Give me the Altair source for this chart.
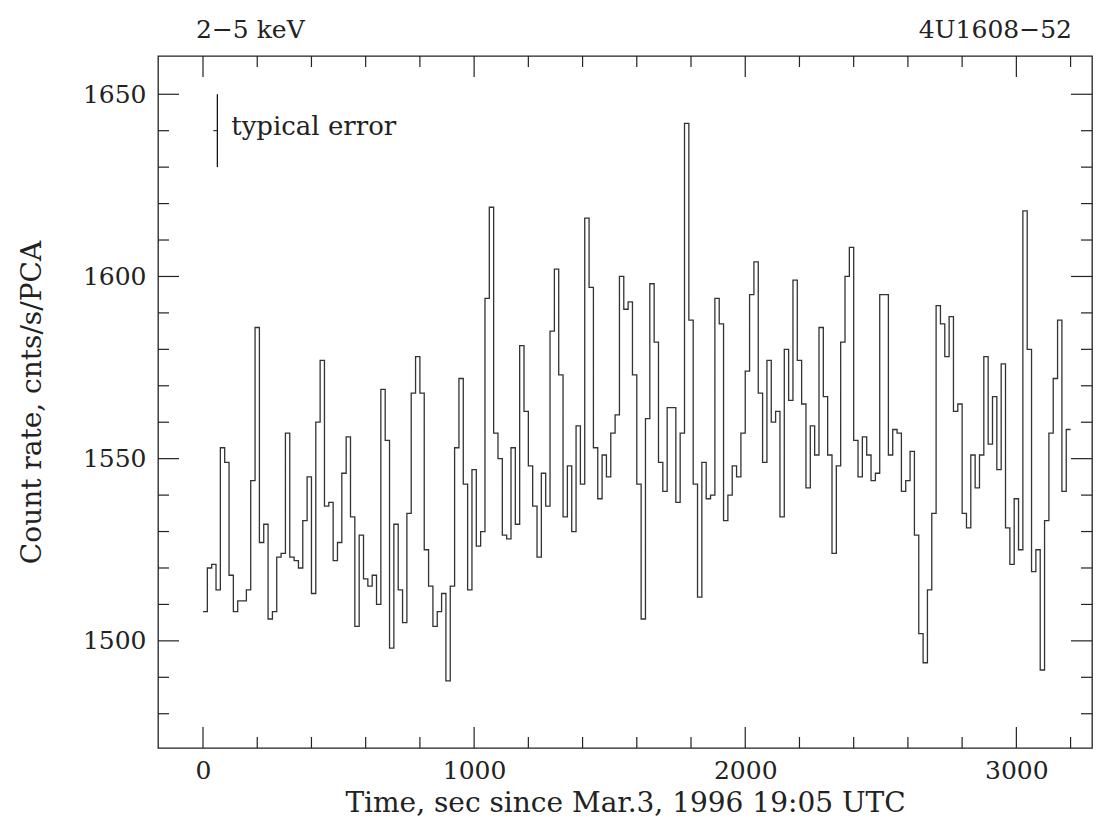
import altair as alt
import pandas as pd

# ---- data (16 s bins) ----
rates = [
    1508, 1520, 1521, 1514, 1553, 1549, 1518, 1508, 1511, 1511,
    1514, 1544, 1586, 1527, 1532, 1506, 1508, 1523, 1524, 1557,
    1523, 1522, 1520, 1533, 1545, 1513, 1560, 1577, 1537, 1538,
    1522, 1527, 1546, 1556, 1534, 1504, 1529, 1517, 1515, 1518,
    1510, 1569, 1555, 1498, 1532, 1514, 1505, 1535, 1568, 1578,
    1568, 1525, 1515, 1504, 1508, 1513, 1489, 1515, 1553, 1572,
    1543, 1514, 1547, 1526, 1530, 1594, 1619, 1557, 1550, 1529,
    1528, 1553, 1532, 1581, 1563, 1548, 1537, 1523, 1546, 1537,
    1585, 1602, 1573, 1534, 1548, 1530, 1559, 1543, 1616, 1597,
    1553, 1539, 1551, 1545, 1557, 1562, 1600, 1591, 1593, 1573,
    1543, 1506, 1561, 1598, 1582, 1549, 1541, 1564, 1564, 1538,
    1557, 1642, 1588, 1543, 1512, 1549, 1539, 1540, 1594, 1587,
    1533, 1540, 1548, 1545, 1557, 1574, 1595, 1604, 1568, 1549,
    1577, 1560, 1563, 1534, 1580, 1566, 1599, 1577, 1565, 1542,
    1559, 1551, 1586, 1567, 1551, 1524, 1548, 1582, 1600, 1608,
    1555, 1545, 1556, 1551, 1544, 1546, 1595, 1595, 1551, 1558,
    1557, 1541, 1544, 1552, 1529, 1502, 1494, 1514, 1535, 1592,
    1587, 1578, 1589, 1563, 1565, 1535, 1531, 1551, 1542, 1551,
    1578, 1554, 1567, 1547, 1576, 1531, 1521, 1539, 1525, 1618,
    1580, 1519, 1525, 1492, 1533, 1557, 1572, 1588, 1541, 1558,
]
bin_width = 16
times = [i * bin_width for i in range(len(rates))]
# close the last bin for the step drawing
step_t = times + [len(rates) * bin_width]
step_v = rates + [rates[-1]]

x_major = [0, 1000, 2000, 3000]
x_minor = [200, 400, 600, 800, 1200, 1400, 1600, 1800, 2200, 2400, 2600, 2800, 3200]
y_major = [1500, 1550, 1600, 1650]
y_minor = [1480, 1490, 1510, 1520, 1530, 1540, 1560, 1570, 1580, 1590, 1610, 1620, 1630, 1640]

err_t = [53]
err_lo = [1630]
err_hi = [1650]
err_mid = [1640]
err_stub_t = [38]
note_t = [104]
note_v = [1641]

X_DOMAIN = [-166, 3279]
Y_DOMAIN = [1470.6, 1660.5]
W, H = 934, 692
FONT = "DejaVu Serif"
INK = "#222222"
MAJ, MIN = 21, 11

xs = alt.Scale(domain=X_DOMAIN, nice=False, zero=False)
ys = alt.Scale(domain=Y_DOMAIN, nice=False, zero=False)

XAX = alt.Axis(
    values=x_major, ticks=False, domain=False, grid=False, format="d",
    labelFont=FONT, labelFontSize=25, labelColor=INK, labelPadding=10,
    title="Time, sec since Mar.3, 1996 19:05 UTC", titleFont=FONT, titleFontSize=28,
    titleFontWeight="normal", titleColor=INK, titlePadding=6)
YAX = alt.Axis(
    values=y_major, ticks=False, domain=False, grid=False, format="d",
    labelFont=FONT, labelFontSize=25, labelColor=INK, labelPadding=12,
    title="Count rate, cnts/s/PCA", titleFont=FONT, titleFontSize=28,
    titleFontWeight="normal", titleColor=INK, titlePadding=36)


def X(field):
    return alt.X(field, scale=xs, axis=XAX)


def Y(field):
    return alt.Y(field, scale=ys, axis=YAX)


df = pd.DataFrame({"t": step_t, "v": step_v})

line = alt.Chart(df).mark_line(interpolate="step-after", color="#333333", strokeWidth=1.3).encode(
    x=X("t:Q"), y=Y("v:Q"))


def xticks(vals, length):
    d = pd.DataFrame({"t": vals})
    bottom = alt.Chart(d).mark_rule(color=INK, strokeWidth=1.2).encode(
        x=X("t:Q"), y=alt.value(H), y2=alt.value(H - length))
    top = alt.Chart(d).mark_rule(color=INK, strokeWidth=1.2).encode(
        x=X("t:Q"), y=alt.value(0), y2=alt.value(length))
    return [bottom, top]


def yticks(vals, length):
    d = pd.DataFrame({"v": vals})
    left = alt.Chart(d).mark_rule(color=INK, strokeWidth=1.2).encode(
        y=Y("v:Q"), x=alt.value(0), x2=alt.value(length))
    right = alt.Chart(d).mark_rule(color=INK, strokeWidth=1.2).encode(
        y=Y("v:Q"), x=alt.value(W), x2=alt.value(W - length))
    return [left, right]


err_df = pd.DataFrame({"t": err_t, "lo": err_lo, "hi": err_hi, "mid": err_mid, "ts": err_stub_t})
err_bar = alt.Chart(err_df).mark_rule(color="#111111", strokeWidth=1.3).encode(
    x=X("t:Q"), y=Y("lo:Q"), y2="hi:Q")
err_stub = alt.Chart(err_df).mark_rule(color="#111111", strokeWidth=1.0).encode(
    x=X("ts:Q"), x2="t:Q", y=Y("mid:Q"))

note = alt.Chart(pd.DataFrame({"t": note_t, "v": note_v, "s": ["typical error"]})).mark_text(
    font=FONT, fontSize=26, color=INK, align="left", baseline="middle").encode(
    x=X("t:Q"), y=Y("v:Q"), text="s:N")

hdr = pd.DataFrame({"s": ["2\u22125 keV"]})
hdr_left = alt.Chart(hdr).mark_text(font=FONT, fontSize=25, color=INK, align="left",
                                    baseline="middle").encode(
    x=alt.value(38), y=alt.value(-26), text="s:N")
hdr2 = pd.DataFrame({"s": ["4U1608\u221252"]})
hdr_right = alt.Chart(hdr2).mark_text(font=FONT, fontSize=25, color=INK, align="right",
                                      baseline="middle").encode(
    x=alt.value(W - 20), y=alt.value(-26), text="s:N")

layers = [line] + xticks(x_major, MAJ) + xticks(x_minor, MIN) + yticks(y_major, MAJ) + \
    yticks(y_minor, MIN) + [err_bar, err_stub, note, hdr_left, hdr_right]

chart = alt.layer(*layers).properties(
    width=W, height=H,
    padding={"left": 150, "top": 48, "right": 2, "bottom": 76},
    autosize=alt.AutoSizeParams(type="none"),
    background="white",
).configure_view(stroke=INK, strokeWidth=1.3)

chart.save("out.html", embed_options={"renderer": "svg", "actions": False})
